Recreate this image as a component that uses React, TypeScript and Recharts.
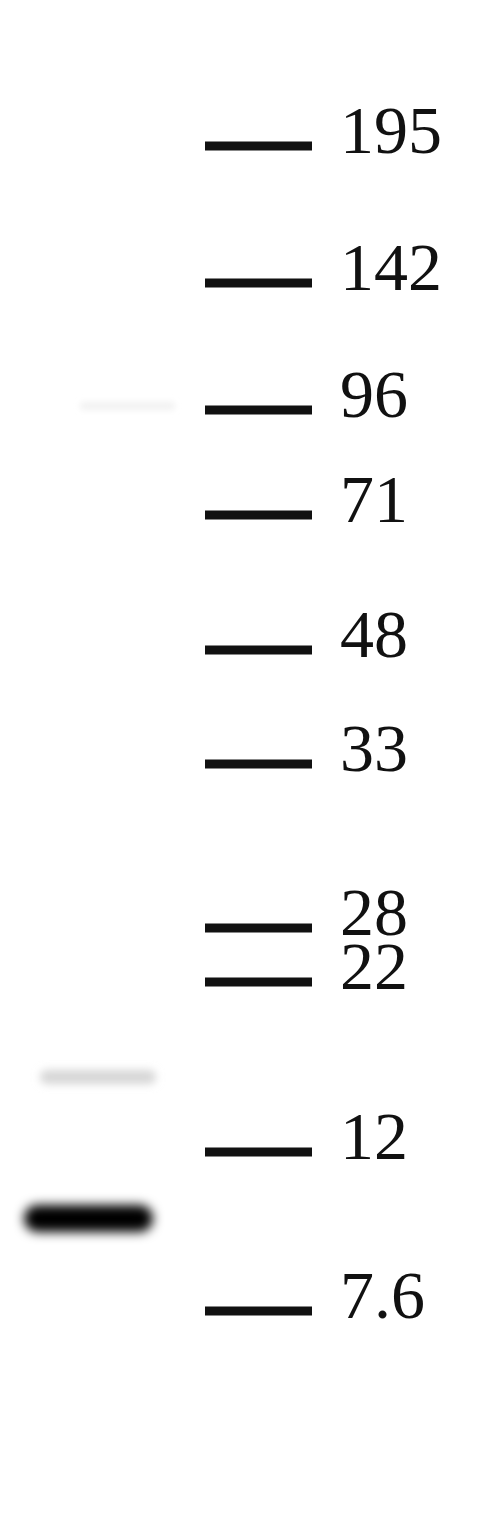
import { ComposedChart, ReferenceArea, ReferenceLine, Scatter, XAxis, YAxis } from "recharts";

// marker ladder (kDa) and where each one ran on the membrane (px from top)
const markerLabels = ["195", "142", "96", "71", "48", "33", "28", "22", "12", "7.6"];
const markerMigration = [146, 283, 410, 515, 650, 764, 928, 982, 1152, 1311];

// sample lane bands: horizontal extent, vertical extent, intensity colour
const bandNames = ["main", "faint", "trace"];
const bandLeft = [24, 40, 80];
const bandRight = [153, 156, 175];
const bandTop = [1205, 1070, 402];
const bandBottom = [1232, 1084, 410];
const bandColor = ["#050505", "#d6d6d6", "#f1f1f1"];
const bandBlur = [5.5, 4, 3];

const W = 489;
const H = 1520;
const LADDER_X1 = 205;
const LADDER_X2 = 312;
const LABEL_X = 340;

const labelData = markerLabels.map((label, i) => ({ x: LABEL_X, y: markerMigration[i], label }));

const LabelShape = (props: any) => {
  const { cx, cy, payload } = props;
  return (
    <text
      x={cx}
      y={cy + 7}
      fontFamily="'Liberation Serif', 'Times New Roman', serif"
      fontSize={68}
      fill="#111"
    >
      {payload.label}
    </text>
  );
};

const BandShape = (blur: number, color: string, id: string) => (props: any) => {
  const { x, y, width, height } = props;
  return (
    <g>
      <defs>
        <filter id={id} x="-30%" y="-200%" width="160%" height="500%">
          <feGaussianBlur stdDeviation={blur} />
        </filter>
      </defs>
      <rect x={x} y={y} width={width} height={height} rx={height / 2} fill={color} filter={`url(#${id})`} />
    </g>
  );
};

export default function App() {
  return (
    <div style={{ position: "absolute", left: 0, top: 0, width: W, height: H, background: "#fff" }}>
      <ComposedChart width={W} height={H} margin={{ top: 0, right: 0, bottom: 0, left: 0 }} data={labelData}>
        <XAxis type="number" dataKey="x" domain={[0, W]} hide />
        <YAxis type="number" dataKey="y" domain={[0, H]} reversed hide width={0} />
        {bandNames.map((name, i) => (
          <ReferenceArea
            key={name}
            x1={bandLeft[i]}
            x2={bandRight[i]}
            y1={bandTop[i]}
            y2={bandBottom[i]}
            ifOverflow="extendDomain"
            shape={BandShape(bandBlur[i], bandColor[i], `blur-${name}`)}
          />
        ))}
        {markerMigration.map((m, i) => (
          <ReferenceLine
            key={markerLabels[i]}
            segment={[
              { x: LADDER_X1, y: m },
              { x: LADDER_X2, y: m },
            ]}
            stroke="#111"
            strokeWidth={9}
          />
        ))}
        <Scatter data={labelData} shape={LabelShape} isAnimationActive={false} />
      </ComposedChart>
    </div>
  );
}
